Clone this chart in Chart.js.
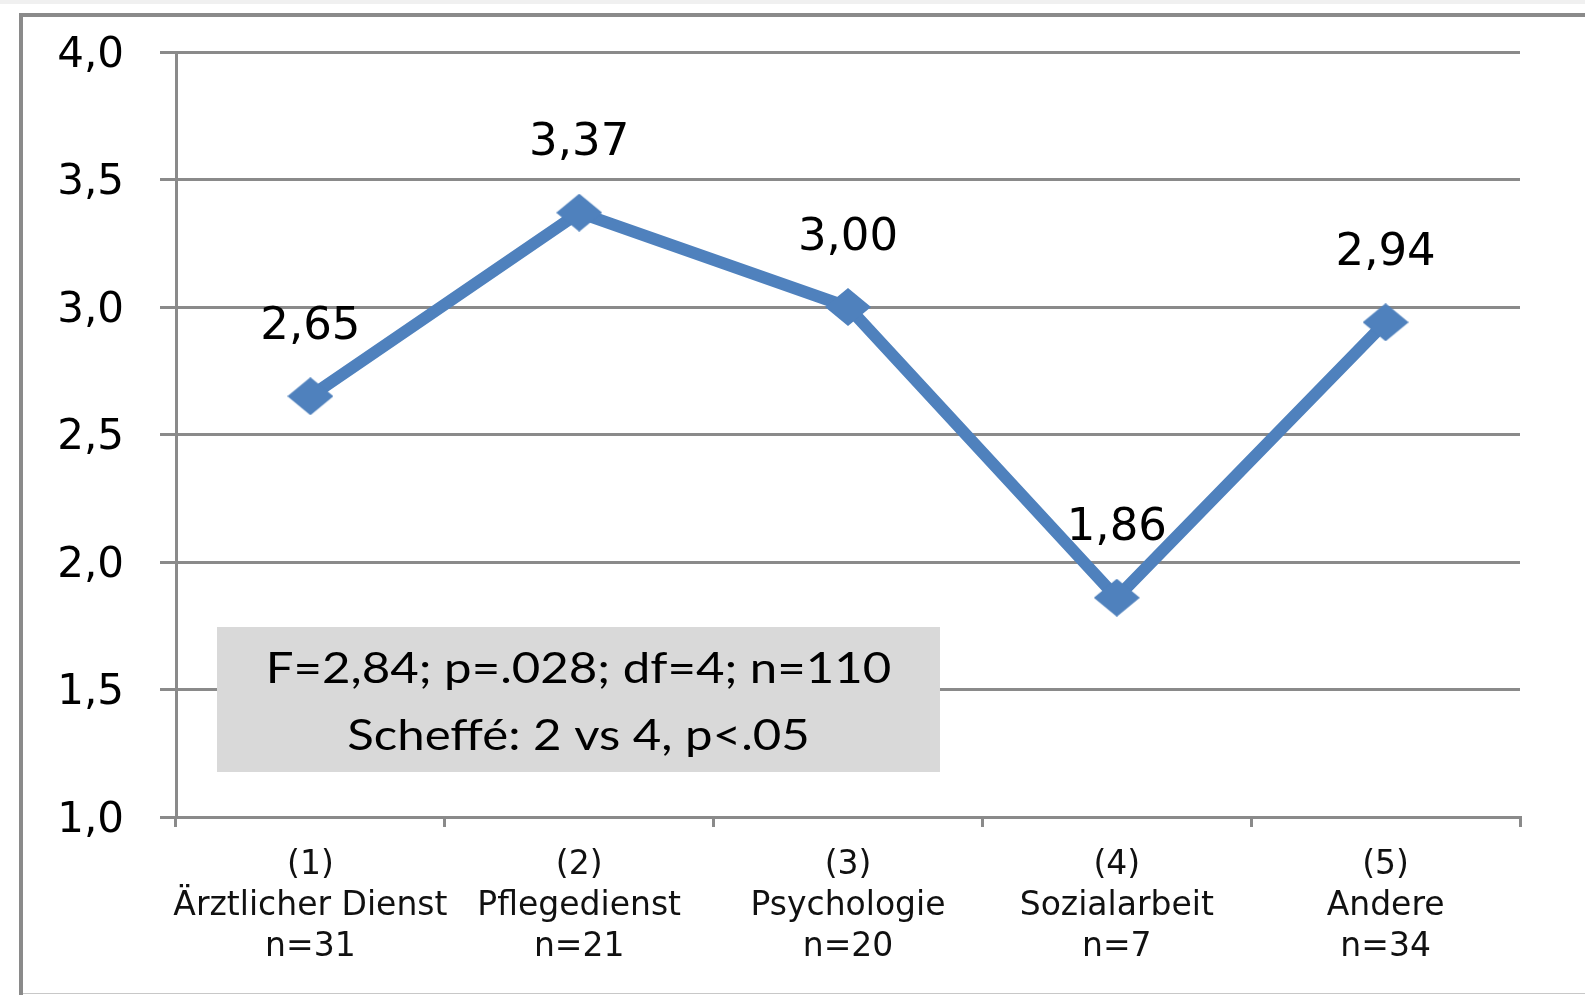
<!DOCTYPE html>
<html>
<head>
<meta charset="utf-8">
<script src="https://cdn.jsdelivr.net/npm/chart.js@4/dist/chart.umd.min.js"></script>
<style>
  html, body { margin: 0; padding: 0; background: #fff; overflow: hidden; }
  #strip { position: absolute; left: 0; top: 0; width: 1585px; height: 4px; background: #f0f0f0; }
  #frame { position: absolute; left: 19px; top: 13px; width: 1620px; height: 1020px; border: 4px solid #8a8a8a; box-sizing: border-box; }
  #bottomline { position: absolute; left: 23px; top: 993px; width: 1562px; height: 1px; background: #c8c8c8; }
  #c { position: absolute; left: 0; top: 0; }
</style>
</head>
<body>
<div id="strip"></div>
<div id="frame"></div>
<div id="bottomline"></div>
<canvas id="c" width="1585" height="995"></canvas>
<script>
// ---- data ----
const groupCodes = ['(1)', '(2)', '(3)', '(4)', '(5)'];
const groupNames = ['Ärztlicher Dienst', 'Pflegedienst', 'Psychologie', 'Sozialarbeit', 'Andere'];
const groupN = [31, 21, 20, 7, 34];
const meanValues = [2.65, 3.37, 3.00, 1.86, 2.94];
const yMin = 1.0, yMax = 4.0, yStep = 0.5;
const statsLines = ['F=2,84; p=.028; df=4; n=110', 'Scheffé: 2 vs 4, p<.05'];

const categoryLabels = groupCodes.map((c, i) => [c, groupNames[i], 'n=' + groupN[i]]);
const fmt = (v, d) => v.toFixed(d).replace('.', ',');

const GRID = '#8a8a8a';
const BLUE = '#4f81bd';

// diamond marker (slightly wider than tall, as in the reference)
function makeDiamond(w, h, color) {
  const cv = document.createElement('canvas');
  cv.width = w; cv.height = h;
  const g = cv.getContext('2d');
  g.fillStyle = color;
  g.beginPath();
  g.moveTo(w / 2, 0);
  g.lineTo(w, h / 2);
  g.lineTo(w / 2, h);
  g.lineTo(0, h / 2);
  g.closePath();
  g.fill();
  return cv;
}
const diamond = makeDiamond(46, 38, BLUE);

const dataLabelPlugin = {
  id: 'dataLabels',
  afterDatasetsDraw(chart) {
    const ctx = chart.ctx;
    const meta = chart.getDatasetMeta(0);
    ctx.save();
    ctx.font = '45px "DejaVu Sans"';
    ctx.fillStyle = '#000';
    ctx.textAlign = 'center';
    ctx.textBaseline = 'middle';
    meta.data.forEach((pt, i) => {
      ctx.fillText(fmt(meanValues[i], 2), pt.x, pt.y - 69);
    });
    ctx.restore();
  }
};

const statsBoxPlugin = {
  id: 'statsBox',
  beforeDatasetsDraw(chart) {
    const ctx = chart.ctx;
    const ca = chart.chartArea;
    const left = ca.left + 41, right = ca.left + 764;
    const top = 627, bottom = 772;
    ctx.save();
    ctx.fillStyle = '#d9d9d9';
    ctx.fillRect(left, top, right - left, bottom - top);
    ctx.fillStyle = '#000';
    ctx.font = '42px Lato';
    ctx.textAlign = 'center';
    ctx.textBaseline = 'middle';
    const cx = (left + right) / 2;
    const ys = [669, 736];
    statsLines.forEach((t, i) => {
      ctx.save();
      ctx.translate(cx, ys[i]);
      ctx.scale(1.17, 1);
      ctx.fillText(t, 0, 0);
      ctx.restore();
    });
    ctx.restore();
  }
};

new Chart(document.getElementById('c'), {
  type: 'line',
  data: {
    labels: categoryLabels,
    datasets: [{
      data: meanValues,
      borderColor: BLUE,
      backgroundColor: BLUE,
      borderWidth: 12,
      tension: 0,
      pointStyle: diamond,
      pointRadius: 20,
      pointHoverRadius: 20,
      pointBackgroundColor: BLUE,
      pointBorderColor: BLUE,
      pointBorderWidth: 0
    }]
  },
  options: {
    responsive: false,
    devicePixelRatio: 1,
    animation: false,
    events: [],
    layout: { padding: { left: 0, top: 52, right: 65, bottom: 0 } },
    plugins: { legend: { display: false }, tooltip: { enabled: false }, title: { display: false } },
    scales: {
      x: {
        type: 'category',
        offset: true,
        grid: { offset: true, drawOnChartArea: false, tickLength: 10, color: GRID, lineWidth: 3 },
        border: { color: GRID, width: 3 },
        ticks: {
          padding: 18,
          color: '#111',
          font: { family: '"DejaVu Sans"', size: 33, lineHeight: 41 / 33 },
          maxRotation: 0, autoSkip: false
        },
        afterFit: s => { s.height = 178; }
      },
      y: {
        min: yMin, max: yMax,
        grid: { color: GRID, lineWidth: 3, tickLength: 16 },
        border: { color: GRID, width: 3 },
        ticks: {
          stepSize: yStep,
          padding: 36,
          labelOffset: 4,
          color: '#000',
          font: { family: '"DejaVu Sans"', size: 42 },
          callback: v => fmt(v, 1)
        },
        afterFit: s => { s.width = 176; s.paddingTop = 20; s.paddingBottom = 20; }
      }
    }
  },
  plugins: [statsBoxPlugin, dataLabelPlugin]
});
</script>
</body>
</html>
